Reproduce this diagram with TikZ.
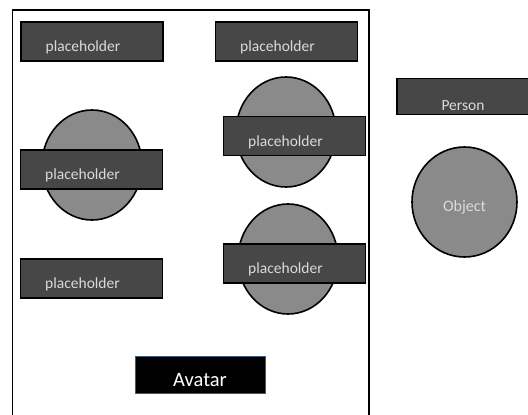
\documentclass[tikz,border=0pt]{standalone}
\usepackage{fontspec}
\setmainfont{Carlito}
\usetikzlibrary{shapes.geometric}
\definecolor{boxgray}{HTML}{474747}
\definecolor{ballgray}{HTML}{8A8A8A}
\definecolor{labelgray}{HTML}{DADADA}
\definecolor{avatarrim}{HTML}{3E5A7A}
\tikzset{
	plate/.style={draw=black, line width=1.2pt, fill=boxgray, text=labelgray,
		minimum width=142pt, minimum height=39pt, inner sep=0pt,
		text height=20pt, text depth=0pt,
		font=\fontsize{15.5}{17}\selectfont},
	holder/.style={plate, execute at end node={\hspace*{18pt}}},
	ball/.style={ellipse, draw=black, line width=1.6pt, fill=ballgray, text=labelgray,
		minimum width=100pt, minimum height=110pt, inner sep=0pt,
		text height=19pt, text depth=0pt,
		font=\fontsize{16}{18}\selectfont},
	avatarbox/.style={draw=avatarrim, line width=0.8pt, fill=black, text=white,
		minimum width=130pt, minimum height=37pt, inner sep=0pt,
		text height=22pt, text depth=0pt,
		font=\fontsize{20.5}{23}\selectfont}
}
\begin{document}
\begin{tikzpicture}[x=1pt,y=-1pt]
		\useasboundingbox (0,0) rectangle (528,415);
		\draw[line width=1.5pt] (12.5,416) -- (12.5,10) -- (369,10) -- (369,416);
		\node[holder] (ph1) at (92,41.5) {placeholder};
		\node[holder] (ph2) at (286.5,41.5) {placeholder};
		\node[ball] (ball1) at (92,165) {};
		\node[holder] (ph3) at (91.5,169.5) {placeholder};
		\node[ball] (ball2) at (286,132) {};
		\node[holder] (ph4) at (294.5,136) {placeholder};
		\node[holder] (ph5) at (91.5,278.5) {placeholder};
		\node[ball] (ball3) at (288,259) {};
		\node[holder] (ph6) at (294.5,263.5) {placeholder};
		\node[avatarbox] (avatar) at (200,375) {Avatar};
		\node[plate, minimum width=132pt, minimum height=36pt, text height=27pt]
			(person) at (463,96.5) {Person};
		\node[ball, minimum width=105pt] (object) at (464.5,202) {Object};
	\end{tikzpicture}
\end{document}
